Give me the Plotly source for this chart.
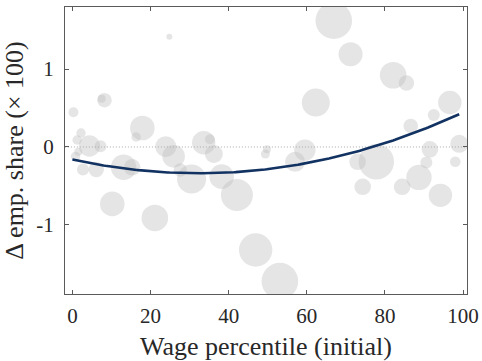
import numpy as np
import plotly.graph_objects as go

# Bubble data: wage percentile (initial), change in employment share (x100), bubble weight
pct = [24.8, 8.2, 7.5, 0.26, 17.9, 16.3, 2.2, 1.2, 4.35, 7.2, 23.9, 25.9, 33.6, 35.2, 36.2,
       49.8, 49.4, 1.5, 0.8, 2.7, 6.1, 13.1, 15.3, 10.2, 21.1, 27.6, 30.5, 62.3, 38.2, 42.1,
       59.5, 57.0, 46.9, 53.1, 66.9, 71.2, 82.1, 85.5, 96.6, 92.5, 86.6, 99.0, 91.5, 77.8,
       73.0, 90.6, 98.0, 88.7, 84.4, 74.3, 94.2]
dshare = [1.414, 0.60, 0.62, 0.445, 0.244, 0.128, 0.18, 0.09, 0.013, 0.01, 0.004, -0.12, 0.055,
          0.10, -0.09, -0.03, -0.09, -0.06, -0.12, -0.29, -0.29, -0.26, -0.26, -0.73, -0.91,
          -0.295, -0.41, 0.57, -0.38, -0.615, -0.04, -0.19, -1.32, -1.72, 1.62, 1.19, 0.92,
          0.82, 0.57, 0.41, 0.27, 0.04, -0.03, -0.19, -0.19, -0.20, -0.19, -0.39, -0.51, -0.51,
          -0.62]
weight = [3, 7.3, 4, 5, 12.3, 4.7, 4.7, 4.7, 10.7, 6, 10.5, 11.3, 11.7, 5, 9, 4, 4.5, 4, 4.7,
          6, 7.7, 12.7, 8.3, 12.3, 13.3, 6.7, 14.5, 14, 12.3, 16, 10.7, 10, 16.7, 18.3, 18.3,
          12, 13.3, 7.7, 11.7, 6, 7.3, 9, 8.3, 17.7, 8.3, 6, 5.3, 12.7, 8.3, 8.3, 11.7]

# Quadratic fit coefficients (c0, c1, c2)
fit_coef = [-0.160, -0.01098, 1.70e-4]
fit_range = [0, 99]

x_tick_vals = [0, 20, 40, 60, 80, 100]
x_tick_text = ["0", "20", "40", "60", "80", "100"]
y_tick_vals = [-1, 0, 1]
y_tick_text = ["-1", "0", "1"]

xf = np.linspace(fit_range[0], fit_range[1], 200)
yf = fit_coef[0] + fit_coef[1] * xf + fit_coef[2] * xf ** 2

fig = go.Figure()
fig.add_trace(go.Scatter(
    x=pct, y=dshare, mode="markers",
    marker=dict(size=[2 * w for w in weight], sizemode="diameter", sizeref=1,
                color="rgb(190,190,190)", opacity=0.4, line=dict(width=0)),
    hoverinfo="skip", showlegend=False))
fig.add_trace(go.Scatter(
    x=[-5, 105], y=[0, 0], mode="lines",
    line=dict(color="rgb(170,170,170)", width=1, dash="1px,2px"),
    hoverinfo="skip", showlegend=False))
fig.add_trace(go.Scatter(
    x=xf, y=yf, mode="lines",
    line=dict(color="rgb(18,50,98)", width=2.6),
    hoverinfo="skip", showlegend=False))

font_family = "Liberation Serif"
axis_common = dict(showgrid=False, zeroline=False, showline=True, mirror="ticks",
                   linecolor="rgb(90,90,90)", linewidth=1, ticks="inside", ticklen=4,
                   tickcolor="rgb(90,90,90)", automargin=False,
                   tickfont=dict(family=font_family, size=21, color="rgb(40,40,40)"))
fig.update_xaxes(range=[-1.9, 101.0], tickvals=x_tick_vals, ticktext=x_tick_text,
                 title=dict(text="Wage percentile (initial)",
                            font=dict(family=font_family, size=26, color="rgb(40,40,40)")),
                 ticklabelstandoff=3,
                 **axis_common)
fig.update_yaxes(range=[-1.885, 1.795], tickvals=y_tick_vals, ticktext=y_tick_text,
                 title=dict(text="Δ emp. share (× 100)",
                            font=dict(family=font_family, size=26, color="rgb(40,40,40)")),
                 ticklabelstandoff=6,
                 **axis_common)
fig.update_layout(width=482, height=361, margin=dict(l=65, r=15, t=7, b=67),
                  plot_bgcolor="white", paper_bgcolor="white")
fig.write_html("out.html", config={"displayModeBar": False},
               post_script="document.body.style.margin='0';document.body.style.padding='0';")
